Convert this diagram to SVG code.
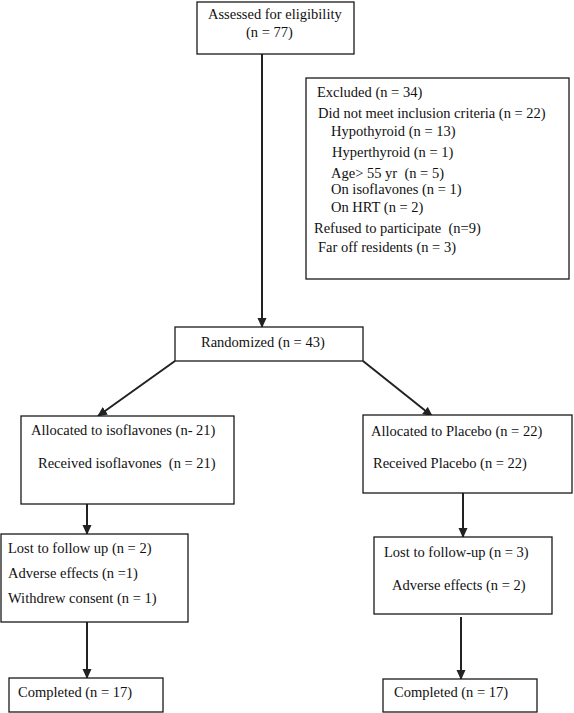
<svg xmlns="http://www.w3.org/2000/svg" width="574" height="713" viewBox="0 0 574 713">
<style>
.box{fill:#fff;stroke:#1a1a1a;stroke-width:1.3}
.t{font-family:"Liberation Serif","Times New Roman",serif;font-size:14.5px;fill:#111}
.c{stroke:#222;stroke-width:2;fill:none;marker-end:url(#ah)}
</style>
<defs>
<marker id="ah" viewBox="0 0 10 10" refX="9" refY="5" markerWidth="10" markerHeight="10" markerUnits="userSpaceOnUse" orient="auto">
<path d="M0,0.5 L10,5 L0,9.5 z" fill="#222"/>
</marker>
</defs>
<rect width="574" height="713" fill="#fff"/>
<g id="connectors">
<line class="c" x1="262" y1="54" x2="262" y2="327"/>
<line class="c" x1="175" y1="361" x2="98" y2="416"/>
<line class="c" x1="363" y1="361" x2="432" y2="416"/>
<line class="c" x1="87" y1="504" x2="87" y2="534"/>
<line class="c" x1="87" y1="622" x2="87" y2="678"/>
<line class="c" x1="463" y1="493" x2="463" y2="537"/>
<line class="c" x1="461" y1="617" x2="461" y2="679"/>
</g>
<g id="assessed">
<rect class="box" x="197" y="2" width="157" height="52"/>
<text class="t" x="208" y="19">Assessed for eligibility</text>
<text class="t" x="246" y="37">(n = 77)</text>
</g>
<g id="excluded">
<rect class="box" x="306" y="78" width="263" height="201"/>
<text class="t" x="317" y="97">Excluded (n = 34)</text>
<text class="t" x="318" y="118">Did not meet inclusion criteria (n = 22)</text>
<text class="t" x="331" y="136">Hypothyroid (n = 13)</text>
<text class="t" x="332" y="157">Hyperthyroid (n = 1)</text>
<text class="t" x="331" y="178" xml:space="preserve">Age&gt; 55 yr  (n = 5)</text>
<text class="t" x="331" y="194">On isoflavones (n = 1)</text>
<text class="t" x="331" y="212">On HRT (n = 2)</text>
<text class="t" x="314" y="233" xml:space="preserve">Refused to participate  (n=9)</text>
<text class="t" x="318" y="252">Far off residents (n = 3)</text>
</g>
<g id="randomized">
<rect class="box" x="175" y="327" width="188" height="34"/>
<text class="t" x="201" y="347">Randomized (n = 43)</text>
</g>
<g id="alloc-iso">
<rect class="box" x="21" y="416" width="213" height="88"/>
<text class="t" x="31" y="435">Allocated to isoflavones (n- 21)</text>
<text class="t" x="38" y="468" xml:space="preserve">Received isoflavones  (n = 21)</text>
</g>
<g id="alloc-placebo">
<rect class="box" x="363" y="415" width="209" height="78"/>
<text class="t" x="371" y="436">Allocated to Placebo (n = 22)</text>
<text class="t" x="373" y="468">Received Placebo (n = 22)</text>
</g>
<g id="lost-iso">
<rect class="box" x="1" y="534" width="187" height="88"/>
<text class="t" x="8" y="553">Lost to follow up (n = 2)</text>
<text class="t" x="8" y="578">Adverse effects (n =1)</text>
<text class="t" x="8" y="603">Withdrew consent (n = 1)</text>
</g>
<g id="lost-placebo">
<rect class="box" x="374" y="537" width="178" height="77"/>
<text class="t" x="384" y="557">Lost to follow-up (n = 3)</text>
<text class="t" x="392" y="590">Adverse effects (n = 2)</text>
</g>
<g id="completed-iso">
<rect class="box" x="9" y="678" width="154" height="34"/>
<text class="t" x="18" y="697">Completed (n = 17)</text>
</g>
<g id="completed-placebo">
<rect class="box" x="383" y="679" width="154" height="33"/>
<text class="t" x="394" y="697">Completed (n = 17)</text>
</g>
</svg>
